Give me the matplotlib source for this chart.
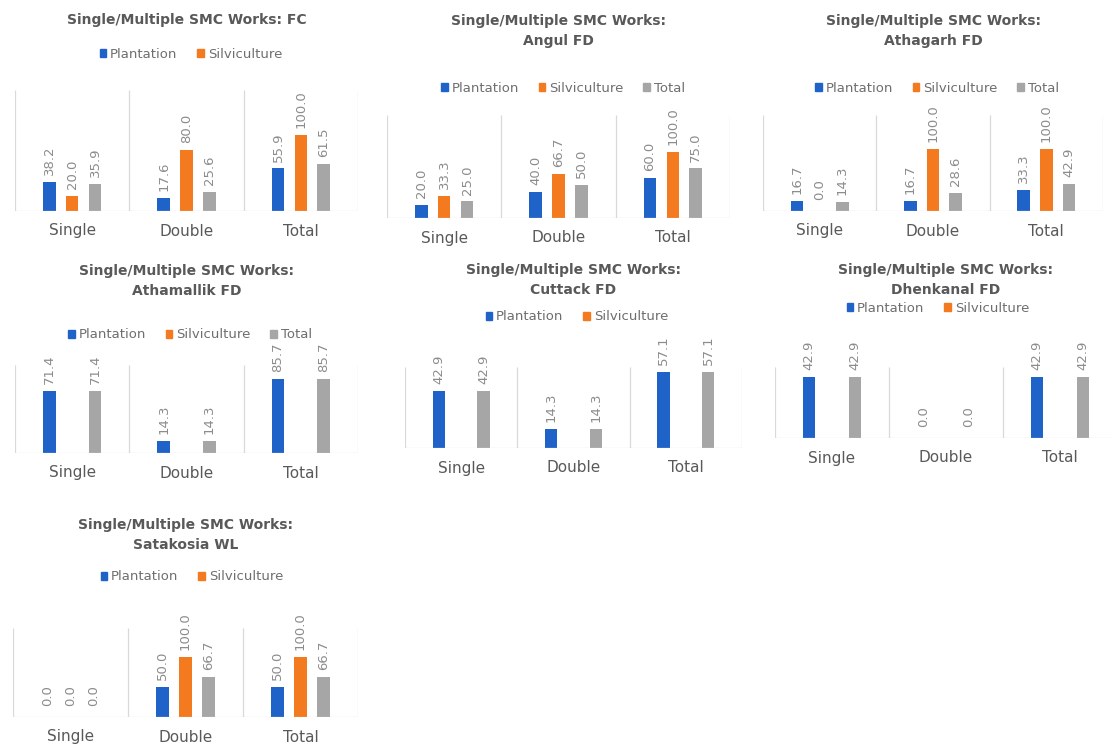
import numpy as np
import matplotlib.pyplot as plt
from matplotlib.patches import Patch

# ---- data (percent) ----
categories = ["Single", "Double", "Total"]
series_names = ["Plantation", "Silviculture", "Total"]

titles = [
    "Single/Multiple SMC Works: FC",
    "Single/Multiple SMC Works:\nAngul FD",
    "Single/Multiple SMC Works:\nAthagarh FD",
    "Single/Multiple SMC Works:\nAthamallik FD",
    "Single/Multiple SMC Works:\nCuttack FD",
    "Single/Multiple SMC Works:\nDhenkanal FD",
    "Single/Multiple SMC Works:\nSatakosia WL",
]

plantation = [
    [38.2, 17.6, 55.9],
    [20.0, 40.0, 60.0],
    [16.7, 16.7, 33.3],
    [71.4, 14.3, 85.7],
    [42.9, 14.3, 57.1],
    [42.9, 0.0, 42.9],
    [0.0, 50.0, 50.0],
]
silviculture = [
    [20.0, 80.0, 100.0],
    [33.3, 66.7, 100.0],
    [0.0, 100.0, 100.0],
    [None, None, None],
    [None, None, None],
    [None, None, None],
    [0.0, 100.0, 100.0],
]
total = [
    [35.9, 25.6, 61.5],
    [25.0, 50.0, 75.0],
    [14.3, 28.6, 42.9],
    [71.4, 14.3, 85.7],
    [42.9, 14.3, 57.1],
    [42.9, 0.0, 42.9],
    [0.0, 66.7, 66.7],
]
# how many series each chart lists in its legend
legend_counts = [2, 3, 3, 3, 2, 2, 2]

# ---- layout (pixels, top-left origin) ----
W, H = 1112, 747
# plot box: x0, x1, ytop, ybase ; y axis max ; first title line y ; legend centre
boxes = [(15, 358, 90, 211), (387, 730, 115, 218), (763, 1103, 115, 211),
         (15, 358, 365, 453), (405, 742, 367, 448), (775, 1117, 367, 438),
         (13, 358, 628, 717)]
ymaxes = [159, 156, 155, 102, 61, 50, 148]
title_ys = [20, 21, 21, 271, 270, 270, 525]
legend_pos = [(191, 54), (563, 88), (937, 88), (190, 335), (577, 317),
              (938, 308), (192, 577)]

colors = ["#1F62C8", "#F47A20", "#A6A6A6"]
grid_c = "#D9D9D9"
title_c = "#595959"
text_c = "#6E6E6E"

plt.rcParams['font.family'] = ['DejaVu Sans']

fig = plt.figure(figsize=(W / 100, H / 100), dpi=100)


def fx(px):
    return px / W


def fy(py):
    return 1 - py / H


x = np.arange(len(categories))
offsets = [-0.2, 0.0, 0.2]
bar_w = 0.11

for i in range(len(titles)):
    x0, x1, yt, yb = boxes[i]
    ax = fig.add_axes([fx(x0), fy(yb), (x1 - x0) / W, (yb - yt) / H])
    ax.set_xlim(-0.5, 2.5)
    ax.set_ylim(0, ymaxes[i])
    for s in ax.spines.values():
        s.set_visible(False)
    ax.vlines([-0.5, 0.5, 1.5, 2.5], 0, ymaxes[i], color=grid_c, lw=0.9)
    ax.axhline(0, color=grid_c, lw=0.9)
    ax.set_yticks([])
    ax.set_xticks(x)
    ax.set_xticklabels(categories, fontsize=11, color=title_c)
    ax.tick_params(axis='x', length=0, pad=9)

    for k, vals in enumerate([plantation[i], silviculture[i], total[i]]):
        for j, v in enumerate(vals):
            if v is None:
                continue
            ax.bar(x[j] + offsets[k], v, width=bar_w, color=colors[k])
            ax.annotate(f"{v:.1f}", (x[j] + offsets[k], v),
                        xytext=(0, 5 if v > 0 else 8), textcoords='offset points',
                        rotation=90, ha='center', va='bottom',
                        fontsize=9.5, color="#8C8C8C", annotation_clip=False)

    for n, line in enumerate(titles[i].split("\n")):
        fig.text(fx((x0 + x1) / 2), fy(title_ys[i] + n * 20), line,
                 ha='center', va='center', fontsize=10, fontweight='bold',
                 color=title_c)

    handles = [Patch(color=colors[k], label=series_names[k])
               for k in range(legend_counts[i])]
    lx, ly = legend_pos[i]
    fig.legend(handles=handles, loc='center', bbox_to_anchor=(fx(lx), fy(ly)),
               ncol=len(handles), frameon=False, fontsize=9.5,
               handlelength=0.5, handleheight=0.5, handletextpad=0.3,
               columnspacing=1.5, labelcolor=text_c, borderpad=0)

fig.savefig("out.png", dpi=100)
